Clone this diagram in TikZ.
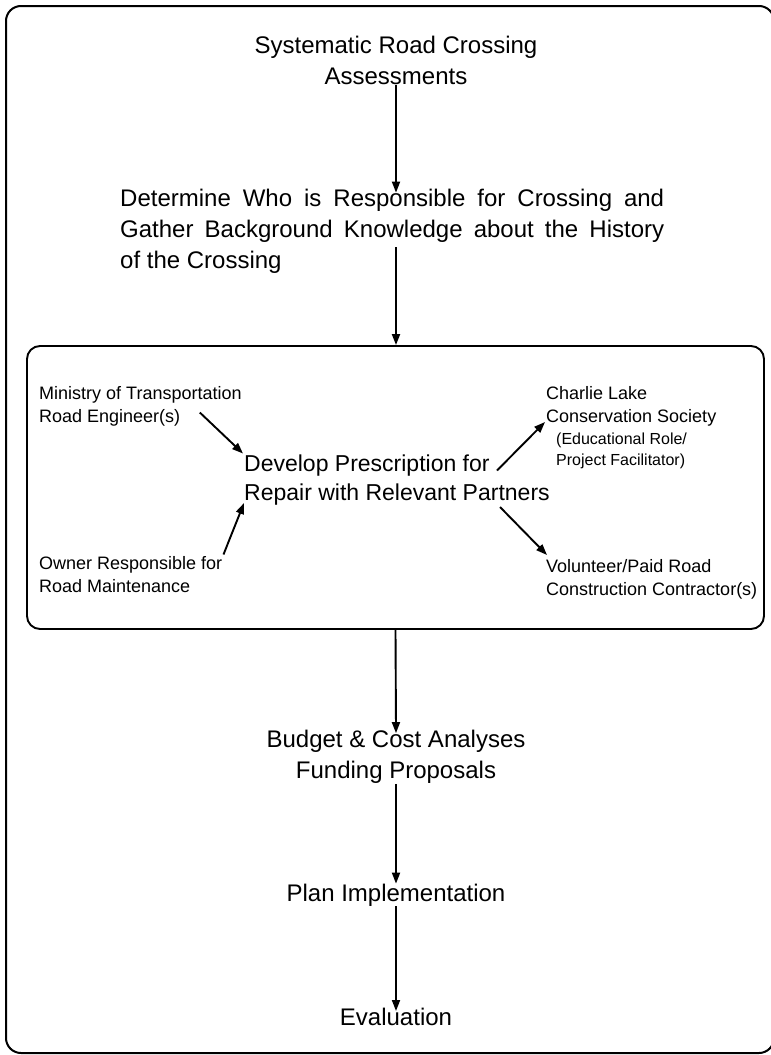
\documentclass[tikz,border=0pt]{standalone}
\usepackage{fontspec}
\setmainfont{Liberation Sans}
\usetikzlibrary{arrows.meta,positioning}

\begin{document}
\begin{tikzpicture}[x=1pt, y=-1pt,
  stage/.style={align=center, inner sep=0pt, font=\fontsize{24}{31}\selectfont},
  party/.style={align=left, inner sep=0pt, anchor=west, font=\fontsize{18}{23}\selectfont},
  arrow/.style={-{Triangle[length=11pt, width=8pt]}, line width=1.9pt},
]
\useasboundingbox (0,0) rectangle (771,1055);
\draw[line width=2pt, rounded corners=15pt] (6,6) rectangle (774,1053);

% === Main flow ===
\node[stage] (assess) at (396,60.5) {Systematic Road Crossing\\Assessments};
\node[stage, align=left, anchor=west] (resp) at (120,231)
  {\makebox[544pt][s]{Determine Who is Responsible for Crossing and}\\
   \makebox[544pt][s]{Gather Background Knowledge about the History}\\
   of the Crossing};

% === Partners box ===
\node[draw, line width=1.9pt, rounded corners=13pt, minimum width=737pt, minimum height=283pt, inner sep=0pt]
  (repair) at (395.5,487.5) {};
\node[stage, align=left, anchor=west, font=\fontsize{23}{29}\selectfont] (develop) at (244,480.5)
  {Develop Prescription for\\Repair with Relevant Partners};

\node[party] (ministry) at (39,406.5) {Ministry of Transportation\\Road Engineer(s)};
\node[party] (owner) at (39,574.5) {Owner Responsible for\\Road Maintenance};
\node[party] (charlie) at (546,406) {Charlie Lake\\Conservation Society};
\node[party, font=\fontsize{16}{21}\selectfont, anchor=north west, below right=7pt and 10pt of charlie.south west]
  (role) {(Educational Role/\\Project Facilitator)};
\node[party] (volunteer) at (546,579) {Volunteer/Paid Road\\Construction Contractor(s)};

\draw[arrow] ([shift={(-42,6)}]ministry.east) -- ([shift={(-1,-27)}]develop.west);
\draw[arrow] ([shift={(1,-20)}]owner.east) -- ([shift={(0,22.5)}]develop.west);
\draw[arrow] ([shift={(253,-10)}]develop.west) -- ([shift={(-1,16)}]charlie.west);
\draw[arrow] ([shift={(256,26.5)}]develop.west) -- ([shift={(1,-24)}]volunteer.west);

% === After the box ===
\node[stage] (budget) at (396,757) {Budget \& Cost Analyses\\Funding Proposals};
\node[stage] (plan) at (396,895) {Plan Implementation};
\node[stage] (eval) at (396,1017) {Evaluation};

\draw[arrow, shorten >=-4pt] (assess.south) -- (assess.south |- resp.north);
\draw[arrow] ([yshift=-16pt]assess.south |- resp.center) -- (assess.south |- repair.north);
\draw[arrow, shorten >=-3pt] (repair.south) -- (budget.north);
\draw[arrow] (budget) -- (plan);
\draw[arrow, shorten >=-3pt] (plan) -- (eval);

\end{tikzpicture}
\end{document}
